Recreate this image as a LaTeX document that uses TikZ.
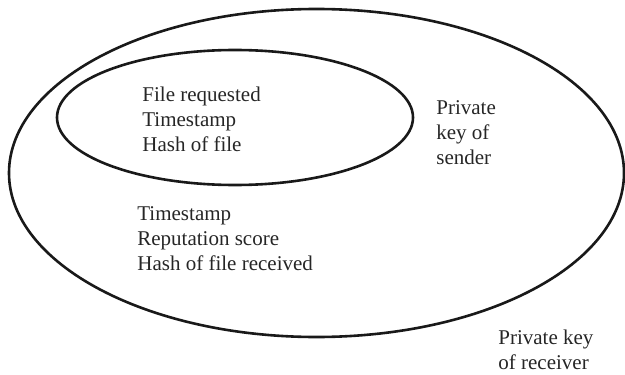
\documentclass[tikz,border=0pt]{standalone}
\usepackage{fontspec}
\setmainfont{Liberation Serif}
\usetikzlibrary{positioning}

\begin{document}
\begin{tikzpicture}[x=0.5pt, y=-0.5pt,
    ring/.style={line width=1.3pt, black!90},
    label/.style={anchor=base west, align=left, inner sep=0pt, text=black!85,
      font=\fontsize{10.5}{12.4}\selectfont}]
    \useasboundingbox (0,0) rectangle (625,374);

    % Ellipse du destinataire
    \draw[ring] (316.5,173) ellipse [x radius=307.5, y radius=164];

    % Ellipse de l'emetteur
    \draw[ring] (235,117.5) ellipse [x radius=178, y radius=67.5];

    % Contenu du message (ancre = ligne du bas)
    \node[label] (request) at (142,151) {File requested\\Timestamp\\Hash of file};
    \node[label] (sender) at (436,164) {Private\\key of\\sender};

    % Accuse de reception
    \node[label] (reply) at (137,270) {Timestamp\\Reputation score\\Hash of file received};
    \node[label] (receiver) at (498,369) {Private key\\of receiver};
\end{tikzpicture}
\end{document}
